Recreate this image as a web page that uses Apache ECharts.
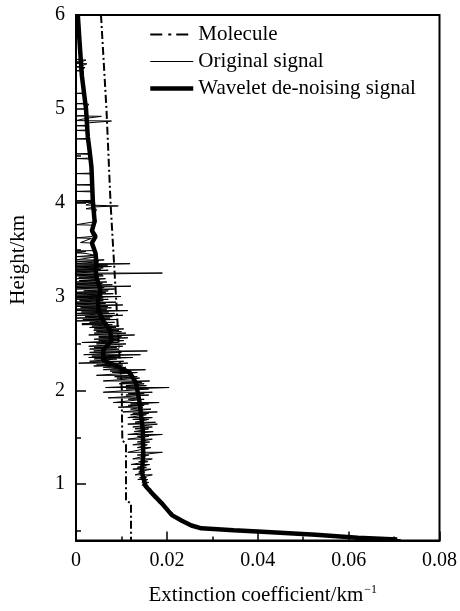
<!DOCTYPE html>
<html><head><meta charset="utf-8">
<script src="https://cdn.jsdelivr.net/npm/echarts@6/dist/echarts.min.js"></script>
<style>html,body{margin:0;padding:0;background:#fff}#c{width:460px;height:611px}</style>
</head><body><div id="c"></div>
<script>
// x tick labels (extinction coefficient, km^-1)
const xTickValues = [0, 0.02, 0.04, 0.06, 0.08];
// y tick labels (height, km)
const yTickValues = [1, 2, 3, 4, 5, 6];
const yMinorTickValues = [0.5, 1.5, 2.5, 3.5, 4.5, 5.5];
const seriesNames = ['Molecule', 'Original signal', 'Wavelet de-noising signal'];

// Molecule: [extinction, height]
const moleculeData = [
  [0.0055, 6.0], [0.0067, 5.0], [0.0076, 4.0], [0.0082, 3.5], [0.0088, 3.0],
  [0.0094, 2.5], [0.0101, 2.0], [0.0101, 1.8], [0.0102, 1.46], [0.0110, 1.44],
  [0.0110, 0.82], [0.0121, 0.80], [0.0121, 0.40]
];

// Wavelet de-noising signal: [extinction, height]
const waveletData = [
  [0.0004, 6.0], [0.0008, 5.7], [0.0013, 5.35], [0.0022, 5.0], [0.0026, 4.7],
  [0.0030, 4.55], [0.0034, 4.38], [0.0037, 4.02], [0.0041, 3.80], [0.0035, 3.70],
  [0.0043, 3.64], [0.0035, 3.57], [0.0043, 3.46], [0.0044, 3.41], [0.0044, 3.23],
  [0.0054, 3.06], [0.0048, 2.95], [0.0050, 2.85], [0.0060, 2.74], [0.0075, 2.64],
  [0.0078, 2.53], [0.0060, 2.43], [0.0060, 2.32], [0.0089, 2.26], [0.0118, 2.19],
  [0.0132, 2.08], [0.0140, 1.87], [0.0147, 1.58], [0.0148, 1.31], [0.0145, 1.13],
  [0.0153, 0.98], [0.0168, 0.90], [0.0190, 0.79], [0.0211, 0.67], [0.0233, 0.61],
  [0.0254, 0.56], [0.0276, 0.53], [0.0347, 0.51], [0.0420, 0.49], [0.0528, 0.46],
  [0.0620, 0.43], [0.0707, 0.41]
];

// Original signal above 3.4 km: [extinction, height]
const originalUpper = [
  [0.0004, 6.0], [0.0008, 5.8], [0.0010, 5.6], [0.0012, 5.53], [0, 5.525], [0.0022, 5.52],
  [0.0012, 5.50], [0, 5.485], [0.0024, 5.48], [0.0013, 5.46], [0, 5.445], [0.0020, 5.44],
  [0.0013, 5.42], [0, 5.405], [0.0016, 5.40], [0.0015, 5.30], [0.0018, 5.17], [0, 5.165],
  [0.0019, 5.16], [0.0020, 5.06], [0, 5.055], [0.0028, 5.05], [0.0022, 5.0], [0.0023, 4.93],
  [0, 4.925], [0.0056, 4.92], [0.0024, 4.90], [0.0024, 4.88], [0, 4.875], [0.0078, 4.87],
  [0.0025, 4.85], [0.0025, 4.825], [0, 4.82], [0.0028, 4.815], [0.0026, 4.775], [0, 4.77],
  [0.0026, 4.765], [0.0027, 4.685], [0, 4.68], [0.0030, 4.675], [0.0028, 4.60], [0.0030, 4.525],
  [0, 4.52], [0.0032, 4.515], [0.0031, 4.475], [0, 4.47], [0.0032, 4.465], [0.0034, 4.38],
  [0.0035, 4.315], [0, 4.31], [0.0038, 4.305], [0.0036, 4.195], [0, 4.19], [0.0038, 4.185],
  [0.0036, 4.125], [0, 4.12], [0.0035, 4.115], [0.0037, 4.025], [0, 4.02], [0.0037, 4.015],
  [0, 4.005], [0.0036, 4.0], [0.0022, 3.975], [0.0093, 3.965], [0.0040, 3.955], [0.0022, 3.935],
  [0.0045, 3.93], [0.0040, 3.85], [0.0045, 3.80], [0, 3.765], [0.0040, 3.76], [0.0035, 3.70],
  [0.0036, 3.64], [0, 3.625], [0.0034, 3.62], [0.0010, 3.575], [0.0035, 3.57], [0.0040, 3.49],
  [0, 3.485], [0.0022, 3.48], [0, 3.465], [0.0020, 3.46], [0.0042, 3.44], [0, 3.425], [0.0040, 3.42]
];

// Original signal below 3.4 km: [height, low extreme, high extreme] of each noisy swing
const originalSwings = [
  [3.39, 0.0, 0.0062], [3.37, 0.0, 0.0050], [3.35, 0.0, 0.0119], [3.335, 0.0, 0.0070],
  [3.32, 0.0, 0.0078], [3.305, 0.0, 0.0060], [3.29, 0.0, 0.0055], [3.28, 0.0, 0.0071],
  [3.265, 0.0, 0.0048], [3.25, 0.0, 0.0190], [3.235, 0.0, 0.0058], [3.22, 0.0, 0.0060],
  [3.205, 0.0006, 0.0050], [3.19, 0.0, 0.0065], [3.17, 0.0007, 0.0050], [3.155, 0.0, 0.0068],
  [3.14, 0.0, 0.0058], [3.125, 0.0, 0.0080], [3.11, 0.0, 0.0121], [3.095, 0.0, 0.0062],
  [3.08, 0.0, 0.0085], [3.06, 0.0017, 0.0071], [3.045, 0.0, 0.0066], [3.03, 0.0, 0.0082],
  [3.015, 0.0, 0.0058], [3.00, 0.0, 0.0099], [2.985, 0.0, 0.0060], [2.97, 0.0, 0.0071],
  [2.955, 0.0008, 0.0060], [2.94, 0.0, 0.0088], [2.925, 0.0, 0.0065], [2.91, 0.0, 0.0103],
  [2.895, 0.0, 0.0070], [2.88, 0.0010, 0.0078], [2.865, 0.0, 0.0068], [2.85, 0.0, 0.0114],
  [2.835, 0.0012, 0.0072], [2.82, 0.0, 0.0085], [2.80, 0.0, 0.0103], [2.785, 0.0020, 0.0080],
  [2.77, 0.0, 0.0075], [2.755, 0.0015, 0.0090], [2.74, 0.0, 0.0060], [2.725, 0.0030, 0.0085],
  [2.71, 0.0013, 0.0060], [2.70, 0.0013, 0.0080], [2.685, 0.0035, 0.0095], [2.67, 0.0030, 0.0088],
  [2.655, 0.0040, 0.0105], [2.64, 0.0039, 0.0093], [2.625, 0.0045, 0.0100], [2.61, 0.0040, 0.0110],
  [2.59, 0.0028, 0.0129], [2.575, 0.0050, 0.0100], [2.56, 0.0050, 0.0114], [2.545, 0.0040, 0.0095],
  [2.53, 0.0050, 0.0105], [2.51, 0.0013, 0.0093], [2.495, 0.0045, 0.0110], [2.47, 0.0028, 0.0103],
  [2.455, 0.0040, 0.0090], [2.44, 0.0030, 0.0095], [2.42, 0.0039, 0.0157], [2.405, 0.0030, 0.0100],
  [2.38, 0.0017, 0.0142], [2.365, 0.0035, 0.0095], [2.35, 0.0028, 0.0125], [2.335, 0.0040, 0.0090],
  [2.31, 0.0030, 0.0105], [2.29, 0.0006, 0.0114], [2.27, 0.0045, 0.0103], [2.26, 0.0039, 0.0082],
  [2.245, 0.0060, 0.0110], [2.22, 0.0060, 0.0153], [2.205, 0.0075, 0.0120], [2.19, 0.0080, 0.0135],
  [2.16, 0.0045, 0.0125], [2.145, 0.0085, 0.0135], [2.13, 0.0090, 0.0140], [2.10, 0.0060, 0.0162],
  [2.085, 0.0100, 0.0145], [2.07, 0.0095, 0.0150], [2.05, 0.0110, 0.0155], [2.03, 0.0065, 0.0205],
  [2.015, 0.0110, 0.0160], [1.98, 0.0060, 0.0168], [1.965, 0.0115, 0.0150], [1.95, 0.0110, 0.0160],
  [1.92, 0.0071, 0.0136], [1.905, 0.0115, 0.0150], [1.87, 0.0082, 0.0183], [1.855, 0.0120, 0.0160],
  [1.84, 0.0115, 0.0150], [1.82, 0.0093, 0.0147], [1.80, 0.0120, 0.0165], [1.77, 0.0103, 0.0179],
  [1.755, 0.0125, 0.0160], [1.74, 0.0120, 0.0155], [1.71, 0.0114, 0.0168], [1.69, 0.0125, 0.0160],
  [1.66, 0.0130, 0.0175], [1.64, 0.0114, 0.0179], [1.61, 0.0125, 0.0168], [1.59, 0.0130, 0.0160],
  [1.56, 0.0128, 0.0170], [1.53, 0.0114, 0.0190], [1.51, 0.0135, 0.0160], [1.48, 0.0114, 0.0168],
  [1.45, 0.0135, 0.0162], [1.42, 0.0125, 0.0157], [1.39, 0.0135, 0.0165], [1.34, 0.0114, 0.0190],
  [1.31, 0.0135, 0.0160], [1.27, 0.0125, 0.0168], [1.24, 0.0138, 0.0158], [1.21, 0.0121, 0.0162],
  [1.18, 0.0135, 0.0155], [1.16, 0.0125, 0.0165], [1.13, 0.0138, 0.0152], [1.10, 0.0130, 0.0168],
  [1.07, 0.0140, 0.0155], [1.05, 0.0136, 0.0158], [1.02, 0.0145, 0.0160], [0.99, 0.0145, 0.0158],
  [0.95, 0.0155, 0.0165], [0.90, 0.0162, 0.0172], [0.85, 0.0172, 0.0180], [0.80, 0.0182, 0.0192],
  [0.75, 0.0192, 0.0202], [0.70, 0.0205, 0.0212], [0.65, 0.0215, 0.0225], [0.60, 0.0230, 0.0240],
  [0.56, 0.0248, 0.0258], [0.53, 0.0272, 0.0290], [0.51, 0.0320, 0.0360], [0.49, 0.0400, 0.0430],
  [0.47, 0.0460, 0.0500], [0.45, 0.0530, 0.0560], [0.43, 0.0600, 0.0620], [0.41, 0.0690, 0.0715]
];

const originalData = originalUpper.slice();
originalSwings.forEach(([h, lo, hi]) => { originalData.push([lo, h]); originalData.push([hi, h]); });

const FONT = "'Liberation Serif', 'Times New Roman', serif";
const chart = echarts.init(document.getElementById('c'), null, { renderer: 'canvas' });
chart.setOption({
  animation: false,
  backgroundColor: '#fff',
  textStyle: { fontFamily: FONT, color: '#000' },
  grid: { left: 72, right: 17, top: 15, bottom: 67, show: true, borderColor: '#000', borderWidth: 2 },
  legend: {
    orient: 'vertical', left: 143, top: 19,
    itemWidth: 43, itemHeight: 14, itemGap: 6,
    itemStyle: { color: 'rgba(0,0,0,0)', borderWidth: 0, opacity: 0 },
    textStyle: { fontFamily: FONT, fontSize: 21, color: '#000', lineHeight: 21 },
    data: [
      { name: seriesNames[0], lineStyle: { width: 2, type: [12, 6, 3, 5] } },
      { name: seriesNames[1], lineStyle: { width: 1 } },
      { name: seriesNames[2], lineStyle: { width: 4.5 } }
    ]
  },
  xAxis: {
    type: 'value', min: 0, max: 0.08, interval: 0.02,
    name: 'Extinction coefficient/km{s|−1}', nameLocation: 'middle', nameGap: 43,
    nameTextStyle: { fontFamily: FONT, fontSize: 21, color: '#000', padding: [0, 0, 0, 10],
      rich: { s: { fontFamily: FONT, fontSize: 12, color: '#000', padding: [0, 0, 12, 1] } } },
    axisLine: { show: true, lineStyle: { color: '#000', width: 2 } },
    axisTick: { show: true, inside: true, length: 9, lineStyle: { color: '#000', width: 1.5 } },
    minorTick: { show: true, splitNumber: 2, length: 4, lineStyle: { color: '#000', width: 1.5 } },
    axisLabel: { fontFamily: FONT, fontSize: 20, color: '#000', margin: 10,
      formatter: v => v === 0 ? '0' : v.toFixed(2) },
    splitLine: { show: false }
  },
  yAxis: [{
    type: 'value', min: 0.4, max: 6, position: 'left',
    name: 'Height/km', nameLocation: 'middle', nameGap: 47,
    nameTextStyle: { fontFamily: FONT, fontSize: 21, color: '#000', padding: [0, 0, 0, 36] },
    axisLine: { show: true, lineStyle: { color: '#000', width: 2 } },
    axisTick: { show: true, inside: true, length: 10, customValues: yTickValues, lineStyle: { color: '#000', width: 1.5 } },
    axisLabel: { fontFamily: FONT, fontSize: 20, color: '#000', margin: 11, customValues: yTickValues },
    splitLine: { show: false }
  }, {
    type: 'value', min: 0.4, max: 6, position: 'left', offset: 0,
    axisLine: { show: false },
    axisTick: { show: true, inside: true, length: 5, customValues: yMinorTickValues, lineStyle: { color: '#000', width: 1.5 } },
    axisLabel: { show: false },
    splitLine: { show: false }
  }],
  series: [
    { name: seriesNames[1], type: 'line', data: originalData, symbol: 'none', z: 2,
      lineStyle: { color: '#000', width: 1 }, itemStyle: { color: '#000' } },
    { name: seriesNames[2], type: 'line', data: waveletData, symbol: 'none', z: 3,
      lineStyle: { color: '#000', width: 4.5 }, itemStyle: { color: '#000' } },
    { name: seriesNames[0], type: 'line', data: moleculeData, symbol: 'none', z: 4,
      lineStyle: { color: '#000', width: 2, type: [8, 3, 2, 3] }, itemStyle: { color: '#000' } }
  ]
});
</script></body></html>
